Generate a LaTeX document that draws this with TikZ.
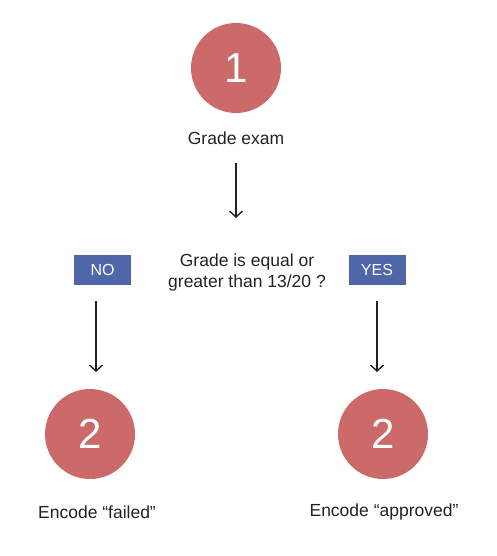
\documentclass[tikz,border=0pt]{standalone}
\usepackage{fontspec}
\setmainfont{Liberation Sans}
\usetikzlibrary{arrows.meta}
\definecolor{circ}{HTML}{CC6A6A}
\definecolor{boxb}{HTML}{4F67A8}
\definecolor{txt}{HTML}{222222}
\tikzset{
  numcirc/.style={circle, fill=circ, minimum size=90pt, inner sep=0pt, text=white, font=\fontsize{42}{42}\selectfont},
  lbl/.style={text=txt, font=\fontsize{17.5}{21}\selectfont, align=center, inner sep=0pt},
  tag/.style={fill=boxb, text=white, minimum width=57pt, minimum height=30pt, inner sep=0pt, font=\fontsize{16}{18}\selectfont},
  flow/.style={draw=txt, line width=1.2pt, -{Straight Barb[length=6pt,width=13pt,line width=1.4pt]}}
}
\begin{document}
\begin{tikzpicture}[x=1pt,y=-1pt]
\useasboundingbox (0,0) rectangle (496,556);
\node[numcirc] (c1) at (236,68) {1};
\node[lbl] (l1) at (236,138) {Grade exam};
\coordinate (a1s) at (236,163);
\coordinate (a1e) at (236,218);
\draw[flow] (a1s) -- (a1e);
\node[lbl] (q) at (247,272) {Grade is equal or\\greater than 13/20 ?};
\node[tag] (no) at (102.5,270) {NO};
\node[tag] (yes) at (377,270) {YES};
\coordinate (ls) at (96,301);
\coordinate (le) at (96,372);
\coordinate (rs) at (377,301);
\coordinate (re) at (377,372);
\draw[flow] (ls) -- (le);
\draw[flow] (rs) -- (re);
\node[numcirc] (c2) at (90,434) {2};
\node[numcirc] (c3) at (383,434) {2};
\node[lbl] (l2) at (97,512) {Encode “failed”};
\node[lbl] (l3) at (384,512) {Encode “approved”};
\end{tikzpicture}
\end{document}
